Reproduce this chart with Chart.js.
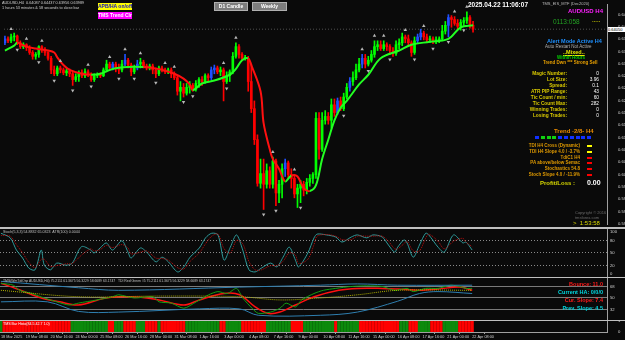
<!DOCTYPE html>
<html><head><meta charset="utf-8">
<script src="https://cdn.jsdelivr.net/npm/chart.js@4.4.1/dist/chart.umd.min.js"></script>
<style>
html,body{margin:0;padding:0;background:#0a0a0a;}
#wrap{position:relative;width:625px;height:340px;overflow:hidden;background:#0a0a0a;font-family:"Liberation Sans",Arial,sans-serif;}
#wrap canvas{position:absolute;left:0;}
.t{position:absolute;white-space:nowrap;line-height:1;font-size:5px;}
.b{font-weight:bold;}
.sep{position:absolute;left:0;width:625px;height:1px;background:#a0a0a0;}
.btn{position:absolute;font-weight:bold;font-size:5px;text-align:center;line-height:7px;white-space:nowrap;}
.sq{position:absolute;width:4px;height:3px;}
</style></head><body>
<div id="wrap">
 <canvas id="cMain" width="625" height="228" style="top:0;width:625px;height:228px"></canvas>
 <canvas id="cSto" width="625" height="48" style="top:229px;width:625px;height:48px"></canvas>
 <canvas id="cTdi" width="625" height="42" style="top:278px;width:625px;height:42px"></canvas>
 <canvas id="cHist" width="625" height="19" style="top:321px;width:625px;height:19px"></canvas>

 <div class="sep" style="top:227px;height:2px;background:#c0c0c0"></div>
 <div class="sep" style="top:277px;background:#c0c0c0"></div>
 <div class="sep" style="top:320px;background:#c0c0c0"></div>

 <div class="t" style="left:2px;top:2px;color:#cfcfcf;font-size:3.8px">AUDUSD,H4&nbsp; 0.64087 0.64437 0.63956 0.63989</div>
 <div class="t" style="left:2px;top:7px;color:#cfcfcf;font-size:3.8px">1 hours 53 minutes &amp; 58 seconds to close bar</div>
 <div class="btn" style="left:98px;top:3px;width:34px;height:7px;background:#ffff00;color:#1010c0">APB/HA on/off</div>
 <div class="btn" style="left:98px;top:12px;width:34px;height:7px;background:#ff00ff;color:#ffffff">TMS Trend Clr</div>
 <div class="btn" style="left:214px;top:2px;width:32px;height:7px;background:#7d7d7d;color:#ffffff;border:1px solid #b0b0b0">D1 Candle</div>
 <div class="btn" style="left:252px;top:2px;width:33px;height:7px;background:#7d7d7d;color:#ffffff;border:1px solid #b0b0b0">Weekly</div>

 <div class="t b" style="left:468px;top:2px;color:#ffffff;font-size:6.5px">2025.04.22 11:06:07</div>
 <div class="t" style="left:542px;top:2px;color:#bdbdbd;font-size:4px">TMS_EIS_MTF (Dec2020)</div>
 <div class="t b" style="right:22px;top:8px;color:#ff20ff;font-size:6px">AUDUSD H4</div>
 <div class="t" style="left:553px;top:19px;color:#22a022;font-size:6.5px">0113:058</div>
 <div class="t b" style="left:592px;top:17px;color:#c8c800;font-size:6px">.....</div>

 <div class="t b" style="left:547px;top:39px;color:#1e90ff;font-size:5.5px">Alert Mode Active H4</div>
 <div class="t" style="left:545px;top:45px;color:#b0b0b0;font-size:4.5px">Auto Restart Not Active</div>
 <div class="t b" style="left:563px;top:50px;color:#e6e600;font-size:5.5px;text-decoration:underline">..Mixed..</div>
 <div class="t b" style="left:557px;top:56px;color:#00d000;font-size:4.5px">Within Hours</div>
 <div class="t b" style="left:543px;top:61px;color:#e8a000;font-size:4.5px">Trend Dwn *** Strong Sell</div>

 <div class="t b" style="right:58px;top:71px;color:#d8c800;text-align:right;line-height:6px;font-size:4.8px">Magic Number:<br>Lot Size:<br>Spread:<br>ATR PIP Range:<br>Tic Count / min:<br>Tic Count Max:<br>Winning Trades:<br>Losing Trades:</div>
 <div class="t" style="right:26px;top:71px;color:#ffffff;text-align:right;line-height:6px;font-size:4.8px">0<br>3.96<br>0.1<br>43<br>60<br>282<br>0<br>0</div>

 <div class="t b" style="left:554px;top:128px;color:#e88a00;font-size:6px">Trend -2/8- H4</div>
 <div id="sqrow"></div>
 <div class="t b" style="right:45px;top:143px;color:#e09a00;text-align:right;line-height:5.8px;font-size:4.5px">TDI H4 Cross (Dynamic)<br>TDI H4 Slope 4.0 / -3.7%<br>TdiC1 H4<br>PA above/below Semac<br>Stochastics 54.8<br>Stoch Slope 4.0 / -11.9%</div>
 <div id="marks"></div>

 <div class="t b" style="left:540px;top:180px;color:#d8d800;font-size:6px">Profit/Loss :</div>
 <div class="t b" style="left:587px;top:179px;color:#ffffff;font-size:7px">0.00</div>
 <div class="t" style="left:575px;top:211px;color:#6a6a6a;font-size:4px">Copyright © 2016</div>
 <div class="t" style="left:575px;top:216px;color:#6a6a6a;font-size:4px">tmsforex.com</div>
 <div class="t" style="left:573px;top:220px;color:#d8d800;font-size:6px">&gt;&nbsp; 1:53:58</div>

 <div class="t" style="left:3px;top:231px;color:#c0c0c0;font-size:3.6px">Stoch(5,3,3) 54.8832 65.0323&nbsp; ATR(100) 0.0044</div>
 <div class="t" style="left:3px;top:280px;color:#c0c0c0;font-size:3.4px">TMS(WmTdiOsp AUDUSD,H4) 75.2111 61.3675 56.3229 58.6689 63.1747&nbsp;&nbsp; TDI Red Green #5 75.2111 61.3675 56.3229 58.6689 63.1747</div>
 <div class="t b" style="right:22px;top:282px;color:#ff1a1a;font-size:5.5px">Bounce: 11.0</div>
 <div class="t b" style="right:22px;top:290px;color:#00d8e0;font-size:5.5px">Current HA: 0/0/0</div>
 <div class="t b" style="right:22px;top:298px;color:#ff1a1a;font-size:5.5px">Cur. Slope: 7.4</div>
 <div class="t b" style="right:22px;top:306px;color:#00d8e0;font-size:5.5px">Prev. Slope: 4.5</div>
 <div class="t" style="left:3px;top:323px;color:#ffffff;font-size:3.6px">TMS Bar Histo(84.5 42.7 1.0)</div>
 <div id="priceBox" class="t" style="left:608px;width:17px;height:5px;background:#ffffff;color:#000;font-size:4px;line-height:5px"></div>
</div>
<script>
// ---------------- DATA ----------------
const timeLabels = ["18 Mar 2025","19 Mar 08:00","20 Mar 16:00","24 Mar 00:00","25 Mar 08:00","26 Mar 16:00","28 Mar 00:00","31 Mar 08:00","1 Apr 16:00","3 Apr 00:00","4 Apr 08:00","7 Apr 16:00","9 Apr 00:00","10 Apr 08:00","11 Apr 16:00","15 Apr 00:00","16 Apr 08:00","17 Apr 16:00","21 Apr 00:00","22 Apr 08:00"];
const priceTicks = [0.64430,0.64113,0.63795,0.63478,0.63160,0.62843,0.62525,0.62208,0.61890,0.61573,0.61255,0.60938,0.60620,0.60303,0.59985,0.59668,0.59350,0.59033];

const opens = [
0.63700,0.63800,0.63750,0.63850,0.63875,0.63700,0.63600,0.63650,0.63575,0.63450,
0.63350,0.63400,0.63600,0.63525,0.63450,0.63300,0.63000,0.62900,0.63050,0.63000,
0.62925,0.62975,0.62900,0.62750,0.62825,0.62925,0.62850,0.62950,0.62900,0.62750,
0.62850,0.62875,0.62850,0.63000,0.63150,0.63050,0.63150,0.63050,0.63000,0.63150,
0.63250,0.63125,0.62950,0.63050,0.63150,0.63200,0.63100,0.63050,0.63100,0.63000,
0.62900,0.63050,0.63000,0.62950,0.63000,0.62900,0.62800,0.62450,0.62550,0.62400,
0.62550,0.62600,0.62500,0.62650,0.62750,0.62700,0.62850,0.62800,0.63000,0.63050,
0.62950,0.63000,0.62700,0.62850,0.62950,0.63350,0.63600,0.63400,0.63300,0.63300,
0.62700,0.62000,0.61200,0.60075,0.60325,0.60050,0.60400,0.60050,0.60650,0.59825,
0.60050,0.60450,0.60600,0.60300,0.60200,0.59800,0.59950,0.60050,0.59900,0.60100,
0.60200,0.60300,0.61750,0.60950,0.61700,0.61800,0.61700,0.62100,0.61900,0.62200,
0.62000,0.62300,0.62550,0.62700,0.62800,0.63000,0.63150,0.63300,0.63150,0.63250,
0.63400,0.63600,0.63650,0.63550,0.63650,0.63600,0.63500,0.63425,0.63650,0.63700,
0.63850,0.63800,0.63700,0.63450,0.63750,0.63850,0.63950,0.63850,0.63775,0.63800,
0.63750,0.63775,0.63800,0.64000,0.64150,0.64350,0.64300,0.64200,0.64125,0.64225,
0.64275,0.64350,0.64150];
const highs = [
0.63875,0.63850,0.63925,0.63950,0.63900,0.63750,0.63700,0.63675,0.63625,0.63500,
0.63450,0.63625,0.63625,0.63575,0.63475,0.63350,0.63100,0.63100,0.63100,0.63050,
0.63025,0.63025,0.62950,0.62900,0.62975,0.63000,0.63025,0.63000,0.62925,0.62900,
0.62925,0.62925,0.63050,0.63250,0.63200,0.63200,0.63200,0.63150,0.63250,0.63400,
0.63300,0.63175,0.63125,0.63250,0.63300,0.63250,0.63150,0.63150,0.63150,0.63050,
0.63100,0.63100,0.63050,0.63050,0.63050,0.62950,0.62850,0.62700,0.62650,0.62650,
0.62700,0.62650,0.62725,0.62800,0.62825,0.62900,0.62900,0.63075,0.63125,0.63100,
0.63075,0.63050,0.62950,0.63000,0.63450,0.63700,0.63650,0.63450,0.63375,0.63350,
0.63150,0.62200,0.61325,0.60700,0.60700,0.60575,0.60500,0.60750,0.60700,0.60150,
0.60575,0.60700,0.60650,0.60450,0.60300,0.60050,0.60150,0.60125,0.60200,0.60300,
0.60350,0.61900,0.61900,0.61900,0.61950,0.61900,0.62250,0.62250,0.62275,0.62300,
0.62400,0.62650,0.62800,0.62950,0.63150,0.63300,0.63400,0.63400,0.63350,0.63500,
0.63750,0.63750,0.63750,0.63750,0.63700,0.63650,0.63575,0.63750,0.63800,0.63950,
0.63900,0.63900,0.63750,0.63850,0.63925,0.64050,0.64000,0.63925,0.63875,0.63850,
0.63850,0.63850,0.64150,0.64250,0.64425,0.64400,0.64375,0.64300,0.64300,0.64350,
0.64500,0.64400,0.64250];
const lows = [
0.63650,0.63700,0.63700,0.63750,0.63650,0.63550,0.63550,0.63500,0.63400,0.63275,
0.63275,0.63325,0.63450,0.63375,0.63250,0.62900,0.62850,0.62850,0.62925,0.62875,
0.62850,0.62825,0.62600,0.62700,0.62700,0.62800,0.62800,0.62825,0.62700,0.62700,
0.62800,0.62800,0.62825,0.62950,0.63000,0.63000,0.62950,0.62900,0.62950,0.63100,
0.63050,0.62850,0.62900,0.63000,0.63050,0.63050,0.63000,0.63000,0.62900,0.62800,
0.62850,0.62950,0.62900,0.62900,0.62800,0.62750,0.62350,0.62200,0.62300,0.62350,
0.62400,0.62450,0.62450,0.62550,0.62600,0.62650,0.62700,0.62750,0.62900,0.62900,
0.62850,0.62200,0.62650,0.62700,0.62900,0.63300,0.63300,0.63250,0.63250,0.62450,
0.61900,0.61075,0.60000,0.59950,0.59400,0.59950,0.59950,0.59950,0.59500,0.59575,
0.59700,0.60250,0.60200,0.59950,0.59700,0.59450,0.59575,0.59750,0.59800,0.60000,
0.60075,0.60200,0.60700,0.60900,0.61600,0.61600,0.61500,0.61800,0.61850,0.61950,
0.61950,0.62250,0.62450,0.62600,0.62750,0.62950,0.63050,0.63050,0.63100,0.63200,
0.63325,0.63500,0.63500,0.63500,0.63500,0.63400,0.63350,0.63375,0.63550,0.63625,
0.63700,0.63600,0.63350,0.63400,0.63700,0.63775,0.63775,0.63700,0.63700,0.63675,
0.63675,0.63700,0.63750,0.63925,0.63850,0.64100,0.64150,0.64050,0.64025,0.64150,
0.64200,0.64075,0.63975];
const closes = [
0.63800,0.63750,0.63850,0.63875,0.63700,0.63600,0.63650,0.63575,0.63450,0.63350,
0.63400,0.63600,0.63525,0.63450,0.63300,0.63000,0.62900,0.63050,0.63000,0.62925,
0.62975,0.62900,0.62750,0.62825,0.62925,0.62850,0.62950,0.62900,0.62750,0.62850,
0.62875,0.62850,0.63000,0.63150,0.63050,0.63150,0.63050,0.63000,0.63150,0.63250,
0.63125,0.62950,0.63050,0.63150,0.63200,0.63100,0.63050,0.63100,0.63000,0.62900,
0.63050,0.63000,0.62950,0.63000,0.62900,0.62800,0.62450,0.62550,0.62400,0.62550,
0.62600,0.62500,0.62650,0.62750,0.62700,0.62850,0.62800,0.63000,0.63050,0.62950,
0.63000,0.62700,0.62850,0.62950,0.63350,0.63600,0.63400,0.63300,0.63300,0.62700,
0.62000,0.61200,0.60075,0.60325,0.60050,0.60400,0.60050,0.60650,0.59825,0.60050,
0.60450,0.60600,0.60300,0.60200,0.59800,0.59950,0.60050,0.59900,0.60100,0.60200,
0.60300,0.61750,0.60950,0.61700,0.61800,0.61700,0.62100,0.61900,0.62200,0.62000,
0.62300,0.62550,0.62700,0.62800,0.63000,0.63150,0.63300,0.63150,0.63250,0.63400,
0.63600,0.63650,0.63550,0.63650,0.63600,0.63500,0.63425,0.63650,0.63700,0.63850,
0.63800,0.63700,0.63450,0.63750,0.63850,0.63950,0.63850,0.63775,0.63800,0.63750,
0.63775,0.63800,0.64000,0.64150,0.64350,0.64300,0.64200,0.64125,0.64225,0.64275,
0.64350,0.64150,0.64050];
const blueBars = [0,35,39,43,67,68,91,108,112,116,134,135,144];

const maBars = [0,3,4,7,10,14,16,17,19,21,25,28,31,35,40,45,48,51,55,58,60,61,64,68,73,75,77,79,80,83,84,86,87,89,91,93,95,97,99,101,103,105,107,109,111,115,118,122,128,132,138,144,148,152];
const maVals = [0.63500,0.63625,0.63700,0.63600,0.63550,0.63500,0.63450,0.63325,0.63125,0.63000,0.62900,0.62875,0.62900,0.63025,0.63075,0.63075,0.63050,0.63000,0.62900,0.62775,0.62625,0.62475,0.62650,0.62725,0.62875,0.63025,0.63250,0.63300,0.63125,0.62450,0.61625,0.60950,0.60700,0.60450,0.60125,0.60275,0.60250,0.59950,0.59875,0.60025,0.60700,0.61200,0.61700,0.62025,0.62200,0.62625,0.62875,0.63300,0.63500,0.63650,0.63725,0.63800,0.64100,0.64150];

const fractalUp = [2,7,12,18,27,34,39,44,52,55,71,75,87,94,116,120,123,130,136,146,150];
const fractalDown = [4,11,16,22,28,37,42,49,58,61,72,84,88,96,110,118,125,133,139,144,149];

const stochBars = [0,3,5,7,9,11,13,14,16,18,21,23,26,29,30,32,34,36,39,41,42,45,47,50,52,54,57,59,61,64,66,68,70,72,74,76,78,80,82,84,87,89,91,93,95,96,99,101,102,105,108,110,113,115,118,120,123,125,127,128,130,131,133,135,137,138,141,143,146,149,150,152];
const stochMain = [97,86,57,38,14,10,57,21,10,26,21,26,65,57,50,62,74,57,79,52,38,62,52,29,40,29,5,17,40,62,86,97,93,33,64,93,57,10,5,14,26,17,40,64,33,17,50,86,95,93,88,76,88,93,86,93,88,69,52,64,81,74,40,69,97,93,64,52,93,74,76,57];
const stochSignal = [92,90,70,50,28,15,35,35,18,20,24,25,45,60,55,58,68,63,70,62,48,52,55,38,37,33,15,12,30,50,72,90,95,60,50,80,72,30,10,10,20,20,30,50,45,25,35,70,90,94,90,82,82,90,90,90,90,78,60,60,72,78,55,55,85,95,78,60,78,85,76,65];
const stochLevels = [0,20,50,80,100];

const rsiBars = [0,4,6,10,14,18,22,25,31,36,38,43,49,51,55,59,63,67,70,73,76,78,81,83,87,90,92,95,97,101,104,108,113,118,123,127,131,133,137,141,145,148,150,152];
const rsiVals = [73,70,62,57,50,44,39,42,47,52,55,50,52,44,42,34,44,55,60,57,65,50,34,26,28,34,42,36,47,57,62,65,68,69,68,62,65,60,65,65,70,68,65,65];
const sigBars = [0,7,13,19,25,33,38,45,51,59,64,72,77,82,86,90,95,101,109,115,123,128,135,141,148,152];
const sigVals = [73,61,50,44,39,49,52,51,47,39,47,57,55,36,26,28,39,52,62,65,65,64,62,64,67,62];
const baseBars = [0,25,51,77,90,103,115,128,152];
const baseVals = [62,52,53,52,47,50,55,62,62];
const upBandBars = [0,25,38,77,103,115,128,152];
const upBandVals = [76,66,62,67,70,72,70,70];
const loBandBars = [0,15,25,38,64,77,83,103,115,128,135,141,152];
const loBandVals = [44,44,29,28,33,33,23,23,28,45,57,60,57];
const tdiLevels = [32,50,68];

const histState = "GRRRRRRRRRRRRRRRRRRRRRRGGGGGGGGGGGGRRGGGRRRRGGGRRRRGRRRRRRRRGGGGGGGGGGGRRGGGGGRRRRRRRRGGGGGGGGRRRRGGGGGGGGGGRGGGGGGGRRRRRRRRRRRRRGGGRRRGGGGRRRRGGGGGRRRRR";

const squares = ["#1030ff","#10d010","#10d010","#10d010","#1030ff","#1030ff","#1030ff","#1030ff","#1030ff","#1030ff"];
const markColors = ["#ffff00","#ffff00","#ff0000","#ff0000","#ff0000","#ff0000"];

// ---------------- RENDER ----------------
Chart.defaults.font.family = "'Liberation Sans', Arial, sans-serif";
Chart.defaults.font.size = 5;
Chart.defaults.color = '#c8c8c8';
Chart.defaults.animation = false;
Chart.defaults.plugins.legend.display = false;
Chart.defaults.plugins.tooltip.enabled = false;

const XMIN = -0.3, XMAX = 195.5;
const GREEN = '#00ff00', RED = '#ff0000', BLUE = '#2050ff';
const xHidden = {type:'linear', min:XMIN, max:XMAX, offset:false, display:false};
function rightAxis(min, max, ticks, fmt, extra) {
  return Object.assign({
    type:'linear', position:'right', min:min, max:max,
    afterFit(s){ s.width = 18; s.paddingTop = 0; s.paddingBottom = 0; },
    afterBuildTicks(s){ s.ticks = ticks.map(v => ({value:v})); },
    ticks:{ color:'#cfcfcf', font:{size:4.2}, padding:3, callback:fmt },
    grid:{ display:false },
    border:{ display:true, color:'#a0a0a0', width:1 }
  }, extra || {});
}
const N = closes.length;
const idx = closes.map((_, i) => i);
const candleColor = i => blueBars.includes(i) ? BLUE : (closes[i] >= opens[i] ? GREEN : RED);

const mainChart = new Chart(document.getElementById('cMain'), {
  type:'bar',
  data:{ datasets:[
    { type:'line', data:fractalUp.map(i => ({x:i, y:highs[i] + 0.0013})), showLine:false,
      pointStyle:'triangle', pointRadius:2, pointBackgroundColor:'#b8b8b8', pointBorderColor:'#b8b8b8', pointBorderWidth:0, order:0 },
    { type:'line', data:fractalDown.map(i => ({x:i, y:lows[i] - 0.0013})), showLine:false,
      pointStyle:'triangle', rotation:180, pointRadius:2, pointBackgroundColor:'#b8b8b8', pointBorderColor:'#b8b8b8', pointBorderWidth:0, order:0 },
    { type:'line', data:maBars.map((b, k) => ({x:b, y:maVals[k]})), borderWidth:2, pointRadius:0, tension:0.35,
      segment:{ borderColor: c => c.p1.parsed.y >= c.p0.parsed.y ? '#22ff22' : '#ff1010' }, order:1 },
    { type:'line', data:[{x:XMIN, y:closes[N-1]}, {x:XMAX, y:closes[N-1]}], borderColor:'rgba(150,150,150,0.5)', borderWidth:1,
      borderDash:[1,2], pointRadius:0, order:4 },
    { type:'bar', data:idx.map(i => ({x:i, y:[opens[i], closes[i]]})), backgroundColor:idx.map(candleColor),
      barThickness:2, minBarLength:1, grouped:false, order:2 },
    { type:'bar', data:idx.map(i => ({x:i, y:[lows[i], highs[i]]})), backgroundColor:idx.map(candleColor),
      barThickness:1, grouped:false, order:3 }
  ]},
  options:{ responsive:false, devicePixelRatio:1, layout:{padding:0},
    scales:{ x:xHidden, y:rightAxis(0.59025, 0.64700, priceTicks, v => v.toFixed(5)) } }
});

const stoChart = new Chart(document.getElementById('cSto'), {
  type:'line',
  data:{ datasets:[
    { data:stochBars.map((b,k)=>({x:b,y:stochSignal[k]})), borderColor:'#c01010', borderWidth:1, borderDash:[1,1], pointRadius:0, tension:0.3 },
    { data:stochBars.map((b,k)=>({x:b,y:stochMain[k]})), borderColor:'#2f9a9a', borderWidth:1, pointRadius:0, tension:0.3 }
  ]},
  options:{ responsive:false, devicePixelRatio:1,
    scales:{ x:xHidden,
      y:rightAxis(-7.1, 107.1, stochLevels, v => String(v), {
        grid:{ display:true, drawTicks:false, color: c => (c.tick && (c.tick.value===20||c.tick.value===50||c.tick.value===80)) ? '#8a8a8a' : 'rgba(0,0,0,0)', lineWidth:1 },
        border:{ display:true, color:'#a0a0a0', dash:[1,2] } }) } }
});

const tdiChart = new Chart(document.getElementById('cTdi'), {
  type:'line',
  data:{ datasets:[
    { data:upBandBars.map((b,k)=>({x:b,y:upBandVals[k]})), borderColor:'#2f7fb0', borderWidth:1, pointRadius:0, tension:0.35 },
    { data:loBandBars.map((b,k)=>({x:b,y:loBandVals[k]})), borderColor:'#2f7fb0', borderWidth:1, pointRadius:0, tension:0.35 },
    { data:baseBars.map((b,k)=>({x:b,y:baseVals[k]})), borderColor:'#b0b000', borderWidth:1, borderDash:[1,1], pointRadius:0, tension:0.35 },
    { data:rsiBars.map((b,k)=>({x:b,y:rsiVals[k]})), borderColor:'#12a012', borderWidth:1, pointRadius:0, tension:0.25 },
    { data:sigBars.map((b,k)=>({x:b,y:sigVals[k]})), borderColor:'#ff1010', borderWidth:1.5, pointRadius:0, tension:0.35 }
  ]},
  options:{ responsive:false, devicePixelRatio:1,
    scales:{ x:xHidden,
      y:rightAxis(15.6, 81.25, tdiLevels, v => String(v), {
        grid:{ display:true, drawTicks:false, color:'#7a7a7a', lineWidth:1 } }) } }
});

const histChart = new Chart(document.getElementById('cHist'), {
  type:'bar',
  data:{ datasets:[
    { data:idx.map(i => ({x:i, y:1})), backgroundColor:idx.map(i => histState[i]==='G' ? '#0c8a0c' : '#ff0000'),
      barThickness:2.6, grouped:false }
  ]},
  options:{ responsive:false, devicePixelRatio:1,
    scales:{
      x:{ type:'linear', min:XMIN, max:XMAX, offset:false, position:'bottom',
        afterFit(s){ s.height = 8; },
        afterBuildTicks(s){ s.ticks = timeLabels.map((_, k) => ({value:k*8})); },
        ticks:{ color:'#cfcfcf', font:{size:3.8}, align:'start', maxRotation:0, autoSkip:false, padding:1,
          callback:(v) => timeLabels[Math.round(v/8)] },
        grid:{ display:true, drawOnChartArea:false, tickLength:2, color:'#a0a0a0' },
        border:{ display:true, color:'#a0a0a0' } },
      y:rightAxis(0, 1, [0,1], v => String(v))
    } }
});

// current price box & panel decorations
const py = mainChart.scales.y.getPixelForValue(closes[N-1]);
const pb = document.getElementById('priceBox');
pb.style.top = (py - 2.5) + 'px';
pb.textContent = closes[N-1].toFixed(5);
const sq = document.getElementById('sqrow');
squares.forEach((c, k) => { const d = document.createElement('div'); d.className='sq'; d.style.left=(535 + k*5.8)+'px'; d.style.top='136px'; d.style.background=c; sq.appendChild(d); });
const mk = document.getElementById('marks');
markColors.forEach((c, k) => { const d = document.createElement('div'); d.className='sq'; d.style.width='5px'; d.style.height='2px'; d.style.left='587px'; d.style.top=(145 + k*5.8)+'px'; d.style.background=c; mk.appendChild(d); });
</script>
</body></html>
